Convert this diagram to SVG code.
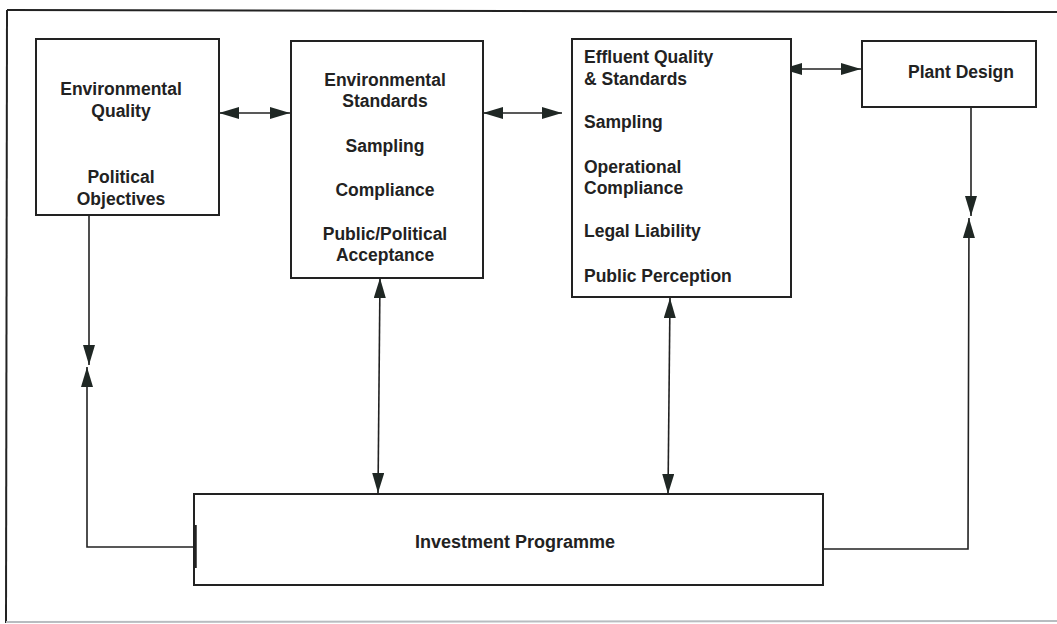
<svg xmlns="http://www.w3.org/2000/svg" width="1057" height="624" viewBox="0 0 1057 624">
<style>
.box{fill:#fff;stroke:#222;stroke-width:2}
.t{font-family:"Liberation Sans",Arial,Helvetica,sans-serif;font-weight:bold;font-size:17.5px;fill:#222}
.c{text-anchor:middle}
.ln{fill:none;stroke:#222;stroke-width:1.6}
</style>
<defs>
<marker id="ah" viewBox="0 0 20 12" refX="20" refY="6" markerWidth="20" markerHeight="12" markerUnits="userSpaceOnUse" orient="auto-start-reverse">
<path d="M0,0 L20,6 L0,12 z" fill="#1f2724"/>
</marker>
</defs>
<rect width="1057" height="624" fill="#fff"/>
<g id="frame">
<line x1="7" y1="10" x2="1057" y2="12" stroke="#222" stroke-width="2"/>
<line x1="7" y1="10" x2="6" y2="623" stroke="#222" stroke-width="2"/>
<line x1="6" y1="622" x2="1057" y2="621" stroke="#b8bcc0" stroke-width="2"/>
</g>
<g id="connectors">
<line class="ln" x1="219" y1="113" x2="290" y2="113" marker-start="url(#ah)" marker-end="url(#ah)"/>
<line class="ln" x1="483" y1="113" x2="562" y2="113" marker-start="url(#ah)" marker-end="url(#ah)"/>
<line class="ln" x1="782" y1="69" x2="861" y2="69" marker-start="url(#ah)" marker-end="url(#ah)"/>
<line class="ln" x1="380" y1="278" x2="378" y2="493" marker-start="url(#ah)" marker-end="url(#ah)"/>
<line class="ln" x1="670" y1="298" x2="668" y2="494" marker-start="url(#ah)" marker-end="url(#ah)"/>
<line class="ln" x1="89" y1="215" x2="89" y2="365" marker-end="url(#ah)"/>
<polyline class="ln" points="194,547 87,547 87,367" marker-end="url(#ah)"/>
<line class="ln" x1="971" y1="107" x2="971" y2="216" marker-end="url(#ah)"/>
<polyline class="ln" points="823,549 968,549 969,218" marker-end="url(#ah)"/>
</g>
<g id="env-quality">
<rect class="box" x="36" y="39" width="183" height="176"/>
<text class="t c" x="121" y="95">Environmental</text>
<text class="t c" x="121" y="117">Quality</text>
<text class="t c" x="121" y="183">Political</text>
<text class="t c" x="121" y="205">Objectives</text>
</g>
<g id="env-standards">
<rect class="box" x="291" y="41" width="192" height="237"/>
<text class="t c" x="385" y="86">Environmental</text>
<text class="t c" x="385" y="107">Standards</text>
<text class="t c" x="385" y="152">Sampling</text>
<text class="t c" x="385" y="196">Compliance</text>
<text class="t c" x="385" y="240">Public/Political</text>
<text class="t c" x="385" y="261">Acceptance</text>
</g>
<g id="effluent">
<rect class="box" x="572" y="39" width="219" height="258"/>
<text class="t" x="584" y="63">Effluent Quality</text>
<text class="t" x="584" y="85">&amp; Standards</text>
<text class="t" x="584" y="128">Sampling</text>
<text class="t" x="584" y="173">Operational</text>
<text class="t" x="584" y="194">Compliance</text>
<text class="t" x="584" y="237">Legal Liability</text>
<text class="t" x="584" y="282">Public Perception</text>
</g>
<g id="plant-design">
<rect class="box" x="862" y="41" width="174" height="66"/>
<text class="t" x="908" y="78">Plant Design</text>
</g>
<g id="investment">
<rect class="box" x="194" y="494" width="629" height="91"/>
<line x1="195" y1="525" x2="195" y2="568" stroke="#222" stroke-width="3.5"/>
<text class="t c" x="515" y="548" style="font-size:18px">Investment Programme</text>
</g>
</svg>
